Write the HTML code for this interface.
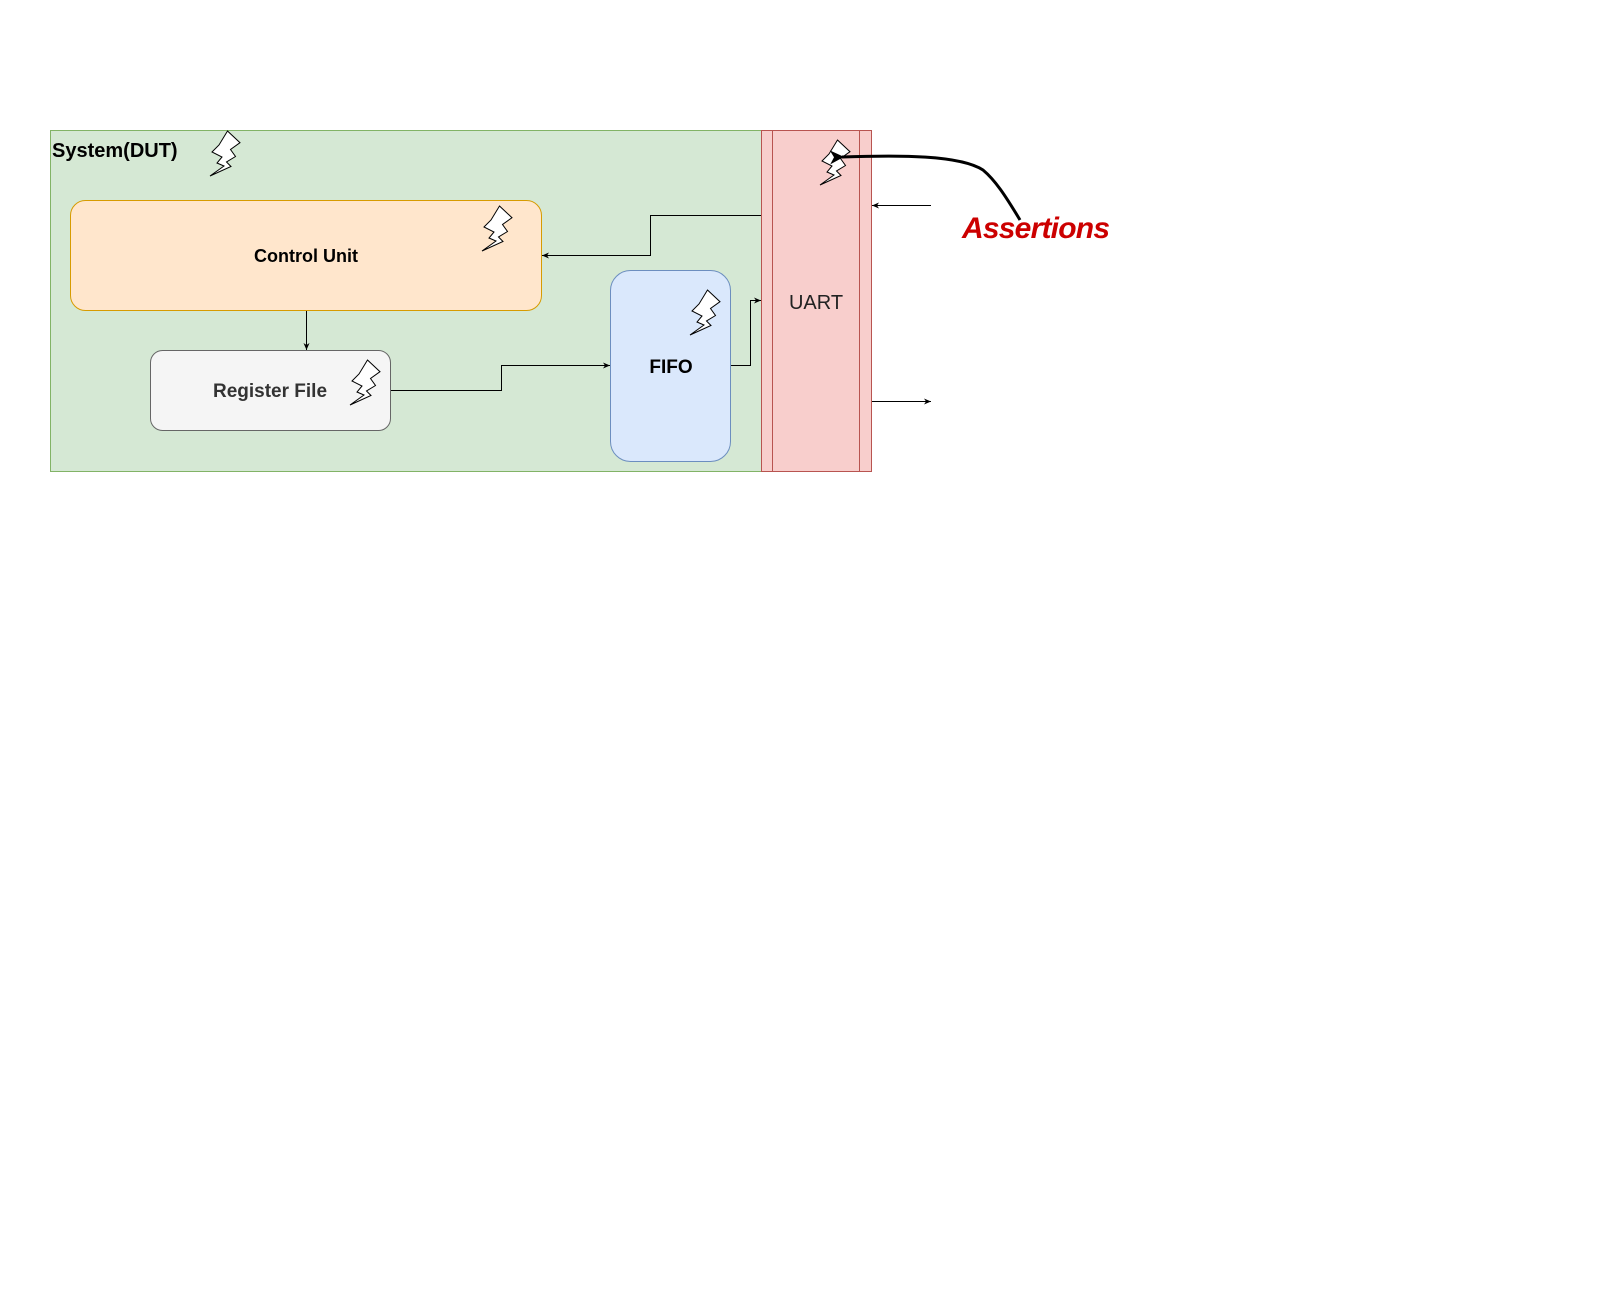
<!DOCTYPE html>
<html><head><meta charset="utf-8"><style>html,body{margin:0;padding:0;background:#fff;}svg{display:block}</style></head>
<body>
<svg width="1600" height="1300" viewBox="0 0 1600 1300" xmlns="http://www.w3.org/2000/svg" font-family="Liberation Sans, Arial, sans-serif">
<defs>
<marker id="ar" markerWidth="8" markerHeight="8" refX="7" refY="4" orient="auto" markerUnits="userSpaceOnUse"><path d="M0,1 L7,4 L0,7 L2,4 Z" fill="#000"/></marker>
<marker id="ar2" markerWidth="16" markerHeight="14" refX="2" refY="7" orient="auto" markerUnits="userSpaceOnUse"><path d="M14,0 L0,7 L14,14 L10,7 Z" fill="#000"/></marker>
<g id="bolt"><path d="M17.5,0 L30,11.7 L20.5,18.5 L25.5,25.5 L16.5,31 L21,35.5 L0,45 L14,35 L7,32 L12,26 L2,21 L9,14 Z" fill="#fff" stroke="#000" stroke-width="1"/></g>
</defs>
<rect x="50.5" y="130.5" width="711" height="341" fill="#d5e8d4" stroke="#82b366"/>
<rect x="761.5" y="130.5" width="110" height="341" fill="#f8cecc" stroke="#b85450"/>
<line x1="772.5" y1="130.5" x2="772.5" y2="471.5" stroke="#b85450"/>
<line x1="859.5" y1="130.5" x2="859.5" y2="471.5" stroke="#b85450"/>
<text x="816" y="309" font-size="20" text-anchor="middle" fill="#222">UART</text>
<text x="52" y="157" font-size="20" font-weight="bold" fill="#000">System(DUT)</text>
<rect x="70.5" y="200.5" width="471" height="110" rx="15" fill="#ffe6cc" stroke="#d79b00"/>
<text x="306" y="262" font-size="18" font-weight="bold" text-anchor="middle" fill="#000">Control Unit</text>
<rect x="150.5" y="350.5" width="240" height="80" rx="12" fill="#f5f5f5" stroke="#666"/>
<text x="270" y="397" font-size="19" font-weight="bold" text-anchor="middle" fill="#333">Register File</text>
<rect x="610.5" y="270.5" width="120" height="191" rx="20" fill="#dae8fc" stroke="#6c8ebf"/>
<text x="671" y="373" font-size="19" font-weight="bold" text-anchor="middle" fill="#000">FIFO</text>
<g fill="none" stroke="#000" stroke-width="1">
<path d="M306.5,311 V350" marker-end="url(#ar)"/>
<path d="M761,215.5 H650.5 V255.5 H542" marker-end="url(#ar)"/>
<path d="M391,390.5 H501.5 V365.5 H610" marker-end="url(#ar)"/>
<path d="M731,365.5 H750.5 V300.5 H761" marker-end="url(#ar)"/>
<path d="M931,205.5 H872" marker-end="url(#ar)"/>
<path d="M872,401.5 H931" marker-end="url(#ar)"/>
</g>
<use href="#bolt" x="210" y="131"/>
<use href="#bolt" x="482" y="206"/>
<use href="#bolt" x="350" y="360"/>
<use href="#bolt" x="690" y="290"/>
<use href="#bolt" x="820" y="140"/>
<path d="M1020,220 C1005,195 995,180 983,170 C960,155 900,155 842,157" fill="none" stroke="#000" stroke-width="3" marker-end="url(#ar2)"/>
<text x="962" y="238" font-size="30" font-weight="bold" font-style="italic" fill="#cc0000" font-family="Comic Sans MS, Liberation Sans, sans-serif" textLength="148">Assertions</text>
</svg>
</body></html>
